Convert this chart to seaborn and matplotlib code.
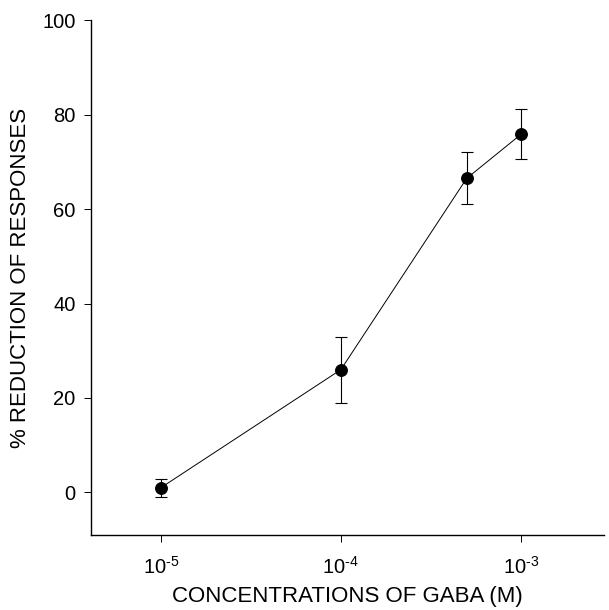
# GABA dose-response: % reduction of responses vs concentration
import pandas as pd
import seaborn as sns
import matplotlib.pyplot as plt

conc = [1e-5, 1e-4, 5e-4, 1e-3]
reduction = [1.0, 26.0, 66.5, 75.8]
sem = [1.9, 7.0, 5.5, 5.3]

xticks = [1e-5, 1e-4, 1e-3]
xticklabels = [r'$10^{\text{-5}}$', r'$10^{\text{-4}}$', r'$10^{\text{-3}}$']
yticks = [0, 20, 40, 60, 80, 100]

df = pd.DataFrame({'conc': conc, 'reduction': reduction, 'sem': sem})

sns.set_style('ticks')
plt.rcParams['font.family'] = ['Liberation Sans', 'DejaVu Sans']
plt.rcParams['mathtext.fontset'] = 'custom'
plt.rcParams['mathtext.rm'] = 'Liberation Sans'
plt.rcParams['mathtext.it'] = 'Liberation Sans'
for k in ['text.color', 'axes.labelcolor', 'xtick.color', 'ytick.color']:
    plt.rcParams[k] = 'black'

fig = plt.figure(figsize=(6.09, 6.10), dpi=100)
ax = fig.add_axes([0.149, 0.123, 0.843, 0.844])

ax.errorbar(df['conc'], df['reduction'], yerr=df['sem'], fmt='none',
            ecolor='black', elinewidth=0.8, capsize=4, capthick=0.8, zorder=2)
sns.lineplot(data=df, x='conc', y='reduction', ax=ax, color='black',
             linewidth=0.7, marker='o', markersize=8.5,
             markerfacecolor='black', markeredgecolor='black', zorder=3)

ax.set_xscale('log')
ax.set_xlim(4.08e-6, 2.9e-3)
ax.set_ylim(-9, 100)
ax.set_xticks(xticks)
ax.set_xticklabels(xticklabels)
ax.minorticks_off()
ax.set_yticks(yticks)

ax.tick_params(axis='both', direction='out', length=5, width=0.7,
               labelsize=14.5, color='black', pad=6)
ax.tick_params(axis='x', pad=10)
ax.set_xlabel('CONCENTRATIONS OF GABA (M)', fontsize=16, labelpad=6)
ax.set_ylabel('% REDUCTION OF RESPONSES', fontsize=16, labelpad=8)

sns.despine(ax=ax)
for s in ['left', 'bottom']:
    ax.spines[s].set_linewidth(1.0)
    ax.spines[s].set_color('black')

fig.savefig('out.png', dpi=100)
